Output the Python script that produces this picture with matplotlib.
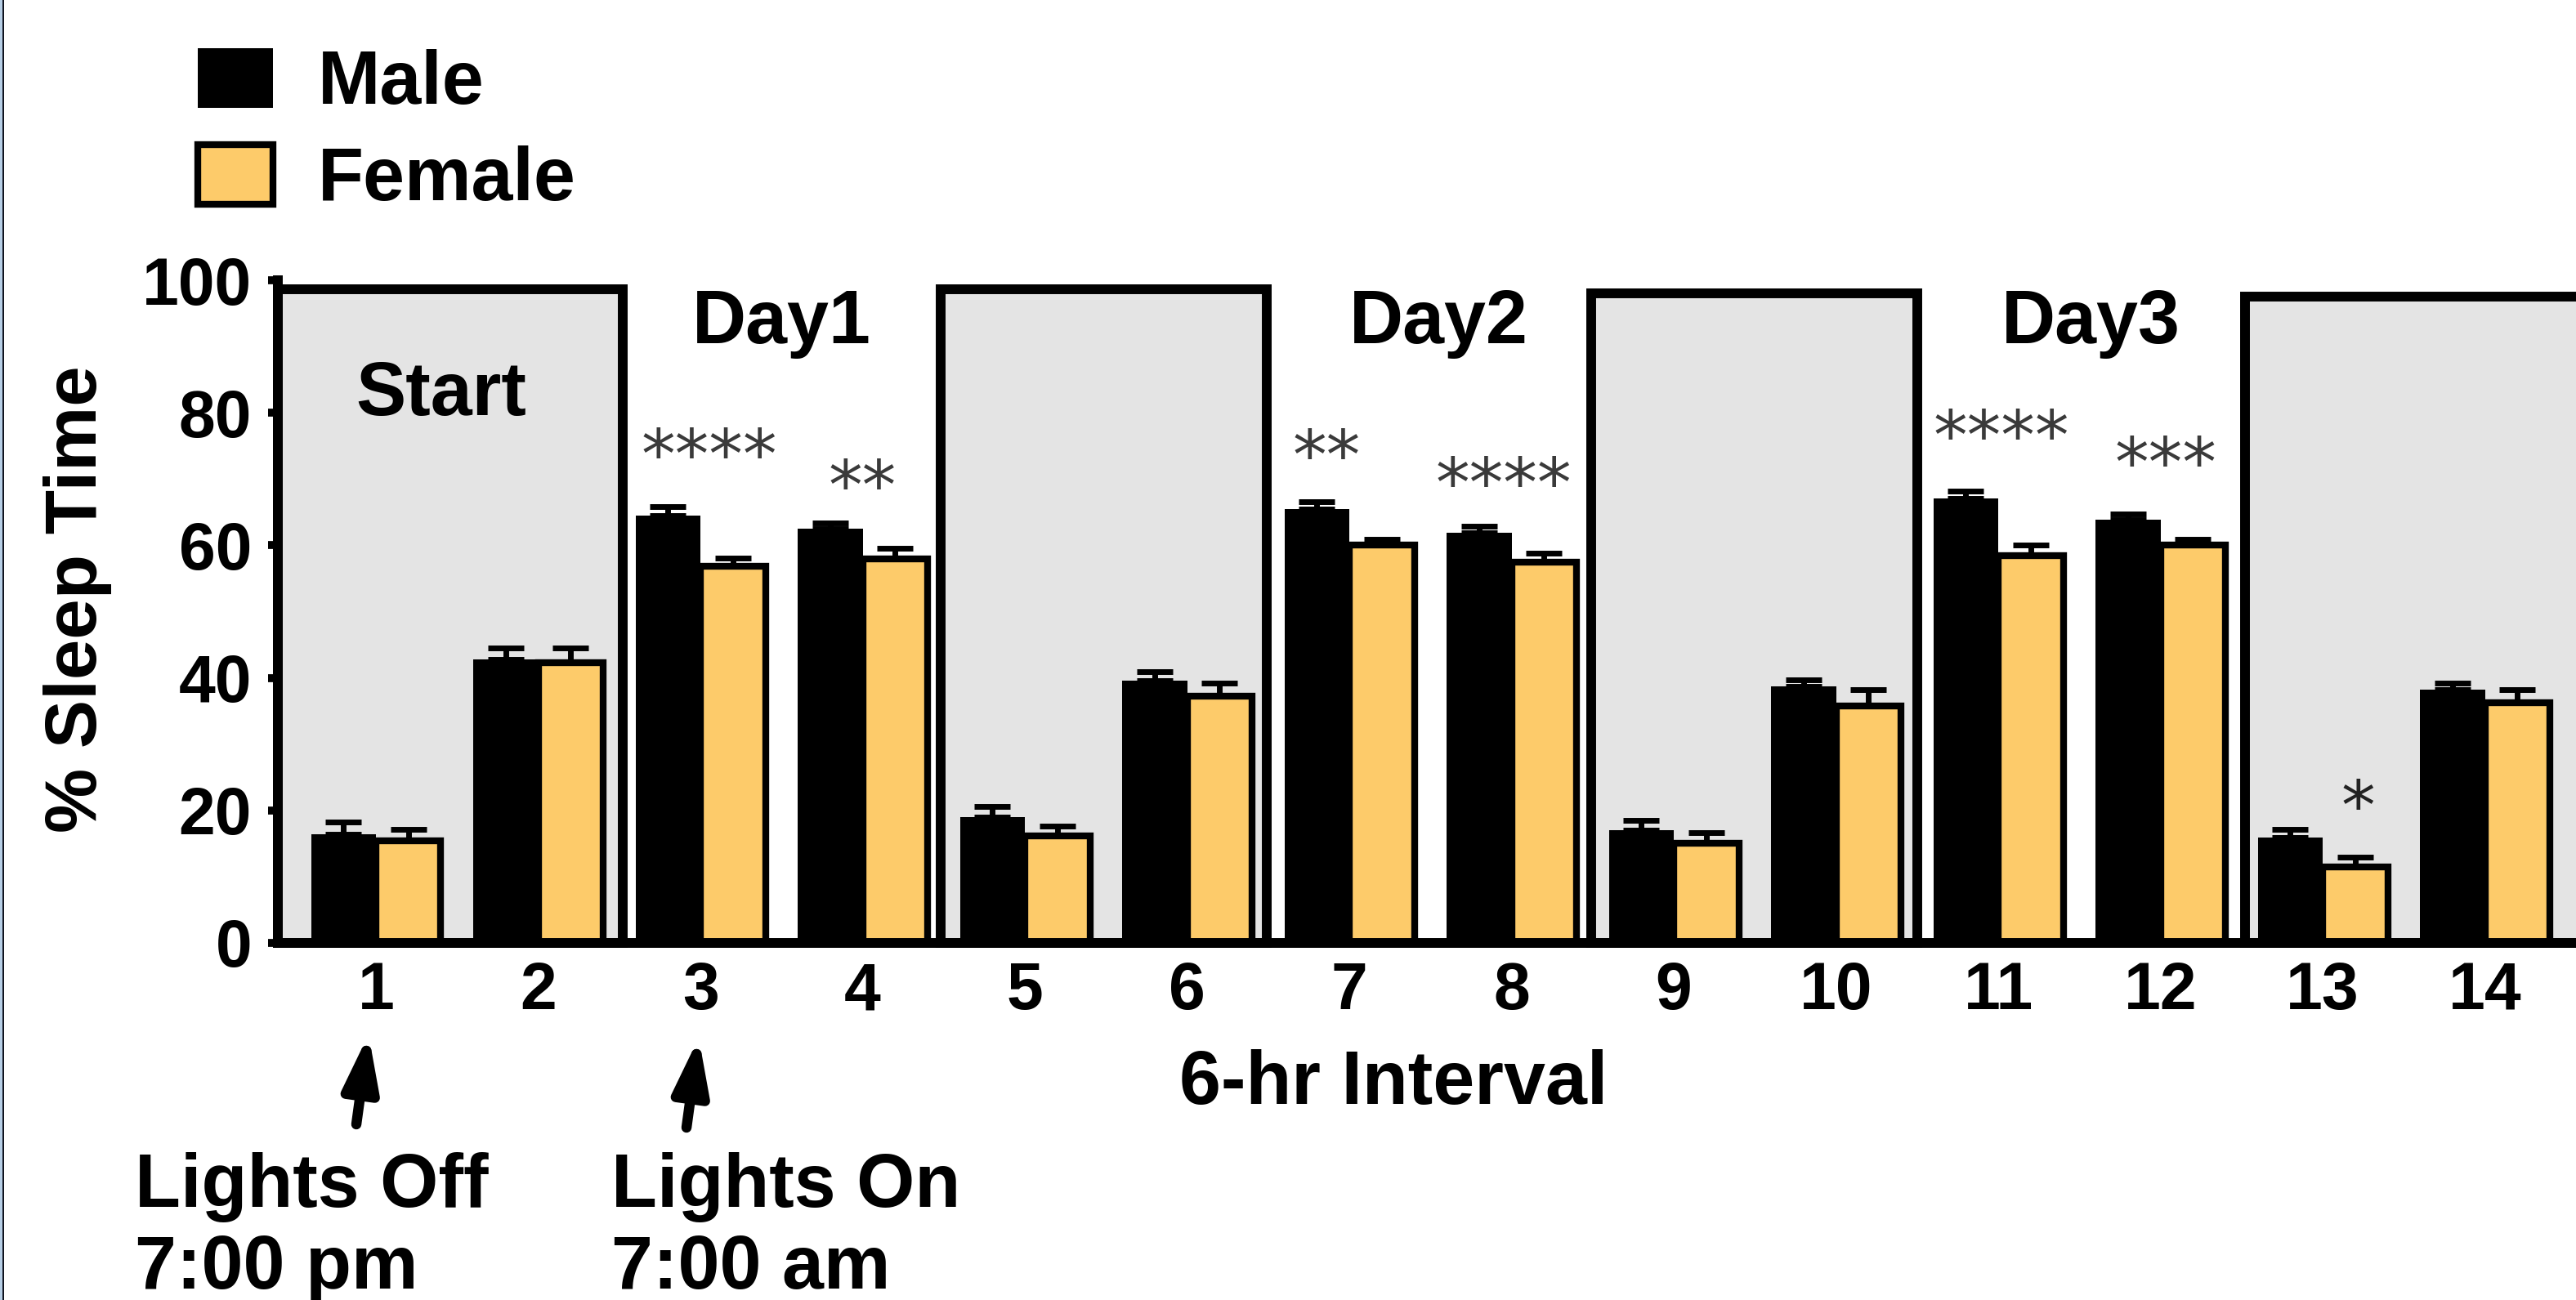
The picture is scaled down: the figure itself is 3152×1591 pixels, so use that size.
import numpy as np
import matplotlib
matplotlib.use("Agg")
import matplotlib.pyplot as plt
from matplotlib.patches import Rectangle, Patch

# ---------------- data ----------------
intervals = list(range(1, 15))
male = [16.4, 42.8, 64.5, 62.5, 19.0, 39.6, 65.5, 61.9, 17.0, 38.7, 67.1, 63.9, 15.9, 38.2]
male_err = [1.8, 1.7, 1.3, 0.9, 1.6, 1.3, 1.1, 1.0, 1.5, 1.0, 1.1, 0.8, 1.2, 1.0]
female = [15.4, 42.3, 56.8, 57.9, 16.1, 37.2, 60.1, 57.4, 15.0, 35.7, 58.4, 60.1, 11.5, 36.2]
female_err = [1.7, 2.2, 1.3, 1.6, 1.5, 2.0, 0.8, 1.4, 1.7, 2.5, 1.7, 0.8, 1.4, 2.0]

sig_interval = [3, 4, 7, 8, 11, 12, 13]
sig_labels = ["****", "**", "**", "****", "****", "***", "*"]
sig_y = [73.0, 68.4, 72.9, 68.8, 75.9, 71.8, 20.0]
sig_dx = [0.055, 0.0, -0.14, -0.05, 0.02, 0.03, 0.22]

day_labels = ["Day1", "Day2", "Day3"]
day_x = [3.5, 7.55, 11.57]

# dark-phase boxes (lights off periods)
box_left = [0.395, 4.48, 8.49, 12.52]
box_right = [2.52, 6.49, 10.50, 15.5]
box_top = [98.6, 98.6, 98.0, 97.5]

FEMALE_COLOR = "#FDCB6A"
FONT = ["Liberation Sans", "DejaVu Sans"]

W, H = 3152, 1591
DPI = 200
fig = plt.figure(figsize=(W / DPI, H / DPI), dpi=DPI)
fig.patch.set_facecolor("white")

ax_left, ax_right = 340, W
ax_bottom, ax_top = 1154, 343
ax = fig.add_axes([ax_left / W, (H - ax_bottom) / H, (ax_right - ax_left) / W, (ax_bottom - ax_top) / H])
ax.set_facecolor("none")

x = np.array(intervals, dtype=float)
bw = 0.4
ax.set_xlim(0.395, 14.561)
ax.set_ylim(0, 100)

# boxes
for l, r, t in zip(box_left, box_right, box_top):
    ax.add_patch(Rectangle((l, 0), r - l, t, facecolor="#e4e4e4", edgecolor="black",
                           lw=4.3, zorder=1, clip_on=False))

ax.bar(x - bw / 2, male, bw, color="black", linewidth=0, zorder=3)
ax.bar(x + bw / 2, female, bw, color=FEMALE_COLOR, edgecolor="black", linewidth=3, zorder=3)
zeros = np.zeros(len(intervals))
ax.errorbar(x - bw / 2, male, yerr=[zeros, male_err], fmt="none", ecolor="black",
            elinewidth=2.5, capsize=8, capthick=2.5, zorder=4)
ax.errorbar(x + bw / 2, female, yerr=[zeros, female_err], fmt="none", ecolor="black",
            elinewidth=2.5, capsize=8, capthick=2.5, zorder=4)

# spines / ticks
for s in ["top", "right"]:
    ax.spines[s].set_visible(False)
for s in ["left", "bottom"]:
    ax.spines[s].set_linewidth(4.3)
    ax.spines[s].set_zorder(5)
ax.set_yticks(range(0, 101, 20))
ax.set_xticks(x)
ax.set_xticklabels([str(i) for i in intervals])
ax.tick_params(axis="y", direction="out", length=4.5, width=3.5, labelsize=29, pad=7)
ax.tick_params(axis="x", length=0, labelsize=29, pad=8)
for lab in ax.get_xticklabels() + ax.get_yticklabels():
    lab.set_fontfamily(FONT)
    lab.set_fontweight("bold")

ax.set_xlabel("6-hr Interval", fontsize=33, fontweight="bold", family=FONT, va="center")
ax.xaxis.set_label_coords((1705 - ax_left) / (ax_right - ax_left), (ax_bottom - 1327) / (ax_bottom - ax_top))
ax.set_ylabel("% Sleep Time", fontsize=32, fontweight="bold", family=FONT, va="center")
ax.yaxis.set_label_coords((95 - ax_left) / (ax_right - ax_left), (ax_bottom - 733) / (ax_bottom - ax_top))

# region labels
ax.text(1.40, 79.7, "Start", ha="center", va="baseline", fontsize=33, fontweight="bold", family=FONT, zorder=6)
for lab, dx in zip(day_labels, day_x):
    ax.text(dx, 90.5, lab, ha="center", va="baseline", fontsize=33, fontweight="bold", family=FONT, zorder=6)

# significance stars
for gi, lab, yy, ddx in zip(sig_interval, sig_labels, sig_y, sig_dx):
    col = "#222222" if lab == "*" else "#3a3a3a"
    ax.text(gi + ddx, yy, lab, ha="center", va="center", fontsize=30, family=["DejaVu Sans"],
            color=col, zorder=6)

# legend
handles = [Patch(facecolor="black", edgecolor="black", linewidth=0),
           Patch(facecolor=FEMALE_COLOR, edgecolor="black", linewidth=3)]
fig.legend(handles, ["Male", "Female"], loc="upper left", bbox_to_anchor=(242 / W, 1 - 59 / H),
           frameon=False, prop=dict(family=FONT, weight="bold", size=33),
           handlelength=1.0, handleheight=0.85, handletextpad=0.6, labelspacing=0.33,
           borderpad=0, borderaxespad=0)

# arrows + annotations
arrow_style = dict(arrowstyle="-|>,head_length=2.0,head_width=0.65", lw=4.5, color="black",
                   mutation_scale=10, shrinkA=0, shrinkB=0)
ax.annotate("", xy=(451 / W, 1 - 1266 / H), xytext=(436 / W, 1 - 1376 / H),
            xycoords="figure fraction", textcoords="figure fraction", arrowprops=arrow_style)
ax.annotate("", xy=(855 / W, 1 - 1270 / H), xytext=(840 / W, 1 - 1380 / H),
            xycoords="figure fraction", textcoords="figure fraction", arrowprops=arrow_style)
for tx, l1, l2 in [(165, "Lights Off", "7:00 pm"), (748, "Lights On", "7:00 am")]:
    fig.text(tx / W, 1 - 1477 / H, l1, ha="left", va="baseline", fontsize=33, fontweight="bold", family=FONT)
    fig.text(tx / W, 1 - 1577 / H, l2, ha="left", va="baseline", fontsize=33, fontweight="bold", family=FONT)

# thin frame on the left edge
fig.add_artist(Rectangle((0, 0), 3 / W, 1, transform=fig.transFigure, facecolor="#b7cfe6", edgecolor="none"))
fig.add_artist(Rectangle((3 / W, 0), 1.5 / W, 1, transform=fig.transFigure, facecolor="#10141f", edgecolor="none"))

fig.savefig("out.png", dpi=DPI)
